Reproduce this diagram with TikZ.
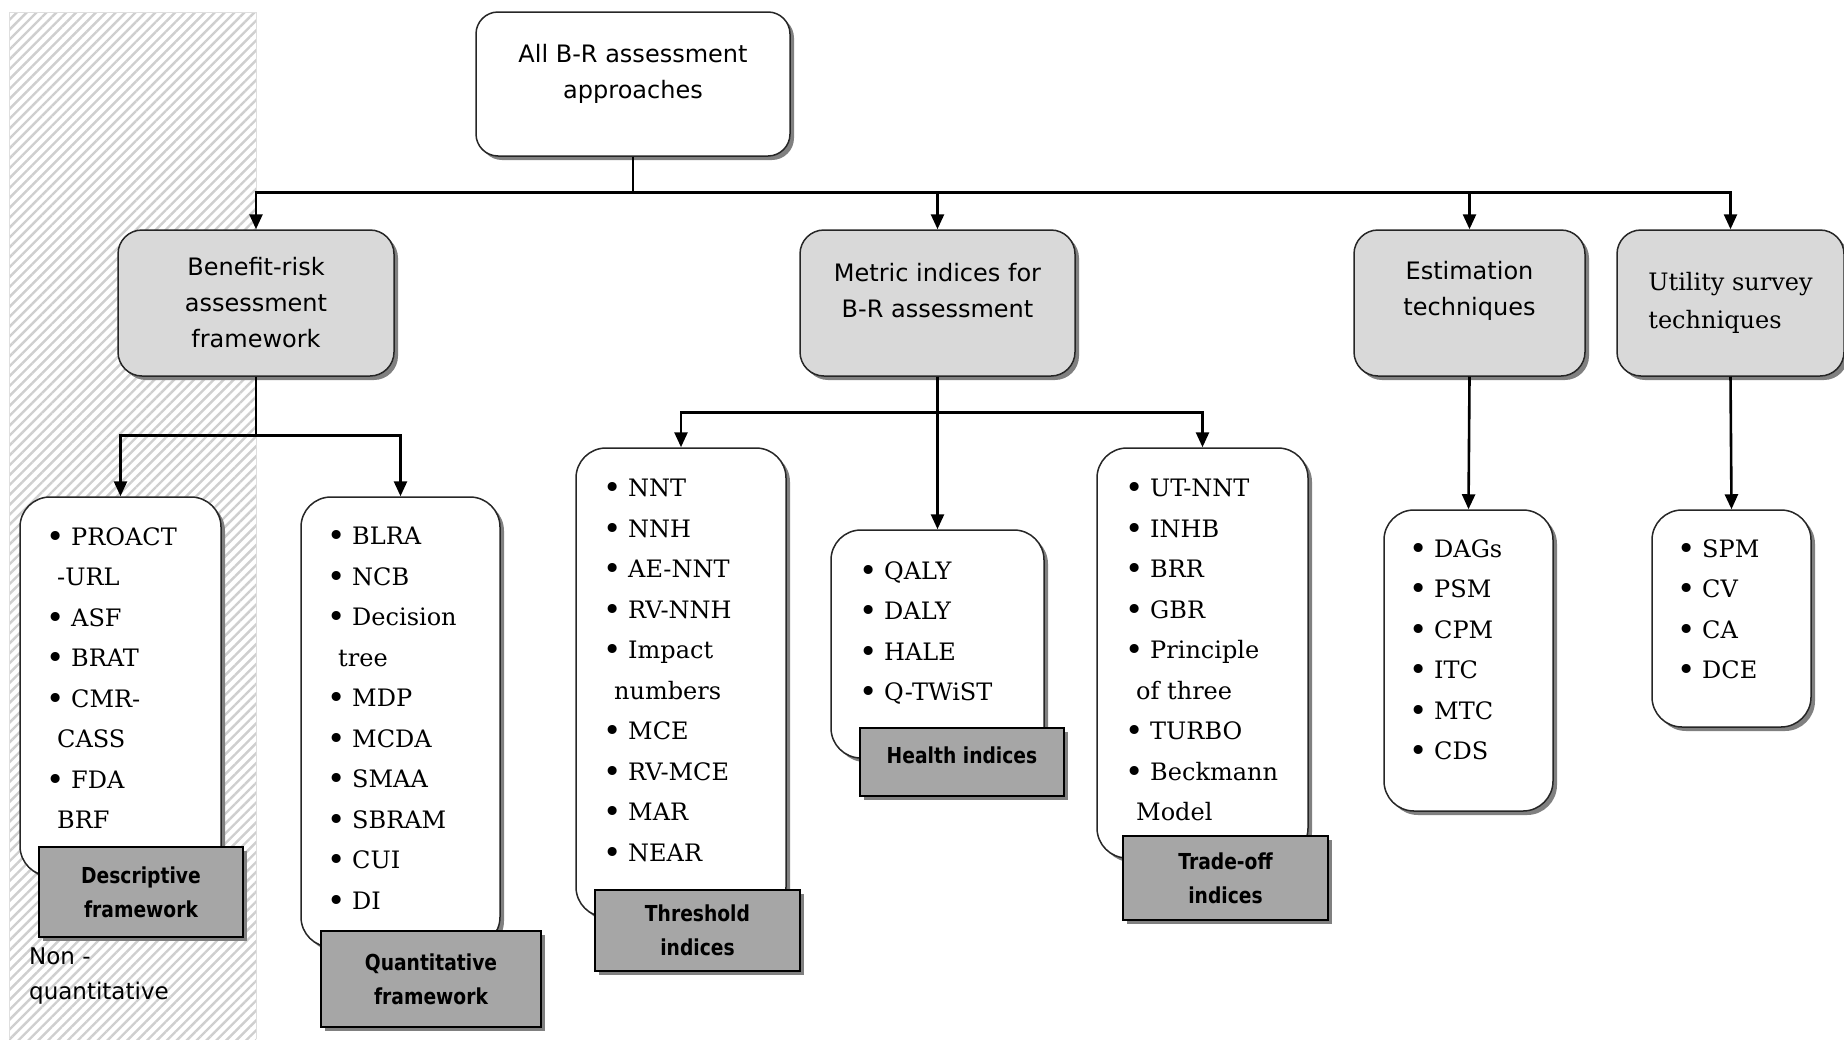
\documentclass[tikz,border=0pt]{standalone}
\usepackage{fontspec}
\setmainfont{DejaVu Serif}
\newfontfamily\hsans{DejaVu Sans}
\newfontfamily\lsans[FakeStretch=0.85]{DejaVu Sans}
\usetikzlibrary{shadows,patterns.meta,arrows.meta}
\newcommand\lbul{\makebox[14pt][l]{\raisebox{-2pt}{\fontsize{31}{31}\selectfont •}}\hspace{11pt}}
\newcommand\lcont{\hspace*{11pt}}
\definecolor{hdrgray}{HTML}{D9D9D9}
\definecolor{lblgray}{HTML}{A6A6A6}
\tikzset{
  shad/.style={general shadow={fill=black!50, shadow xshift=4pt, shadow yshift=-4pt}},
  topbox/.style={draw=black!85, line width=1.5pt, fill=white, rounded corners=22pt, shad},
  hdr/.style={draw=black!85, line width=1.5pt, fill=hdrgray, rounded corners=24pt, shad,
    font=\hsans\fontsize{24}{36}\selectfont, align=center, inner sep=0pt},
  hdrtext/.style={inner sep=0pt, align=center, font=\hsans\fontsize{24}{36}\selectfont},
  listbox/.style={draw=black!85, line width=1.5pt, fill=white, rounded corners=30pt, shad, inner sep=0pt},
  listtext/.style={anchor=north west, inner sep=0pt, align=left, font=\fontsize{24}{40.5}\selectfont},
  lbl/.style={draw=black, line width=1.5pt, fill=lblgray, shad, inner sep=0pt, align=center,
    font=\lsans\bfseries\fontsize{22}{34}\selectfont},
  conn/.style={line width=2.6pt, -{Triangle[length=15pt,width=13pt]}},
}
\begin{document}
\begin{tikzpicture}[x=1pt,y=-1pt]
\useasboundingbox (0,0) rectangle (1844,1039);
% hatched non-quantitative zone
\fill[pattern={Lines[angle=45,distance=7pt,line width=2.4pt]}, pattern color=gray!38] (9,12) rectangle (256,1039);
\draw[gray!25, line width=1pt] (9,1039) -- (9,12) -- (256,12) -- (256,1039);
\node[anchor=north west, inner sep=0pt, align=left, font=\hsans\fontsize{23}{35}\selectfont] (nonq) at (29,948) {Non -\\quantitative};

% top box
\node[topbox, minimum width=314pt, minimum height=144pt] (top) at (633,84) {};
\node[hdrtext] (toptext) at (633,74) {All B-R assessment\\approaches};

% headers
\node[hdr, minimum width=276pt, minimum height=146pt] (braf) at (256,303) {Benefit-risk\\assessment\\framework};
\node[hdr, minimum width=275pt, minimum height=146pt] (metric) at (937.5,303) {};
\node[hdrtext] (metrict) at (937.5,291) {Metric indices for\\B-R assessment};
\node[hdr, minimum width=231pt, minimum height=146pt] (estim) at (1469.5,303) {};
\node[hdrtext] (estimt) at (1469.5,291) {Estimation\\techniques};
\node[hdr, minimum width=227pt, minimum height=146pt, font=\fontsize{24}{38}\selectfont, align=left] (util) at (1730.5,303) {Utility survey\\techniques};

% list boxes
\node[listbox, minimum width=201pt, minimum height=379pt] (desc) at (120.5,686.5) {};
\node[listbox, minimum width=199pt, minimum height=450pt] (quant) at (400.5,722) {};
\node[listbox, minimum width=210pt, minimum height=469pt] (thr) at (681,682.5) {};
\node[listbox, minimum width=213pt, minimum height=228pt] (health) at (937.5,644) {};
\node[listbox, minimum width=211pt, minimum height=410pt] (trade) at (1202.5,653) {};
\node[listbox, minimum width=169pt, minimum height=301pt] (estl) at (1468.5,660.5) {};
\node[listbox, minimum width=159pt, minimum height=217pt] (utill) at (1731.5,618.5) {};

% list texts
\node[listtext] (desct) at (46,527) {\lbul PROACT\\\lcont -URL\\\lbul ASF\\\lbul BRAT\\\lbul CMR-\\\lcont CASS\\\lbul FDA\\\lcont BRF};
\node[listtext] (quantt) at (327,527) {\lbul BLRA\\\lbul NCB\\\lbul Decision\\\lcont tree\\\lbul MDP\\\lbul MCDA\\\lbul SMAA\\\lbul SBRAM\\\lbul CUI\\\lbul DI};
\node[listtext] (thrt) at (603,479) {\lbul NNT\\\lbul NNH\\\lbul AE-NNT\\\lbul RV-NNH\\\lbul Impact\\\lcont numbers\\\lbul MCE\\\lbul RV-MCE\\\lbul MAR\\\lbul NEAR};
\node[listtext] (healtht) at (859,561) {\lbul QALY\\\lbul DALY\\\lbul HALE\\\lbul Q-TWiST};
\node[listtext] (tradet) at (1125,479) {\lbul UT-NNT\\\lbul INHB\\\lbul BRR\\\lbul GBR\\\lbul Principle\\\lcont of three\\\lbul TURBO\\\lbul Beckmann\\\lcont Model};
\node[listtext] (estlt) at (1409,539) {\lbul DAGs\\\lbul PSM\\\lbul CPM\\\lbul ITC\\\lbul MTC\\\lbul CDS};
\node[listtext] (utillt) at (1677,539) {\lbul SPM\\\lbul CV\\\lbul CA\\\lbul DCE};

% labels
\node[lbl, minimum width=204pt, minimum height=90pt] (ldesc) at (141,892) {Descriptive\\framework};
\node[lbl, minimum width=220pt, minimum height=96pt] (lquant) at (431,979) {Quantitative\\framework};
\node[lbl, minimum width=205pt, minimum height=81pt] (lthr) at (697.5,930.5) {Threshold\\indices};
\node[lbl, minimum width=204pt, minimum height=68pt] (lhealth) at (962,762) {};
\node[inner sep=0pt, font=\lsans\bfseries\fontsize{22}{34}\selectfont] (lhealtht) at (962,755) {Health indices};
\node[lbl, minimum width=205pt, minimum height=84pt] (ltrade) at (1225.5,878) {Trade-off\\indices};

% connectors
\draw[conn] (top.south) -- ++(0,36) -| (braf.north);
\draw[conn] (top.south) -- ++(0,36) -| (metric.north);
\draw[conn] (top.south) -- ++(0,36) -| (estim.north);
\draw[conn] (top.south) -- ++(0,36) -| (util.north);
\draw[conn] (braf.south) -- ++(0,59) -| (desc.north);
\draw[conn] (braf.south) -- ++(0,59) -| (quant.north);
\draw[conn] (metric.south) -- (health.north);
\draw[conn] (metric.south) -- ++(0,36) -| (thr.north);
\draw[conn] (metric.south) -- ++(0,36) -| (trade.north);
\draw[conn] (estim.south) -- (estl.north);
\draw[conn] (util.south) -- (utill.north);
\end{tikzpicture}
\end{document}
